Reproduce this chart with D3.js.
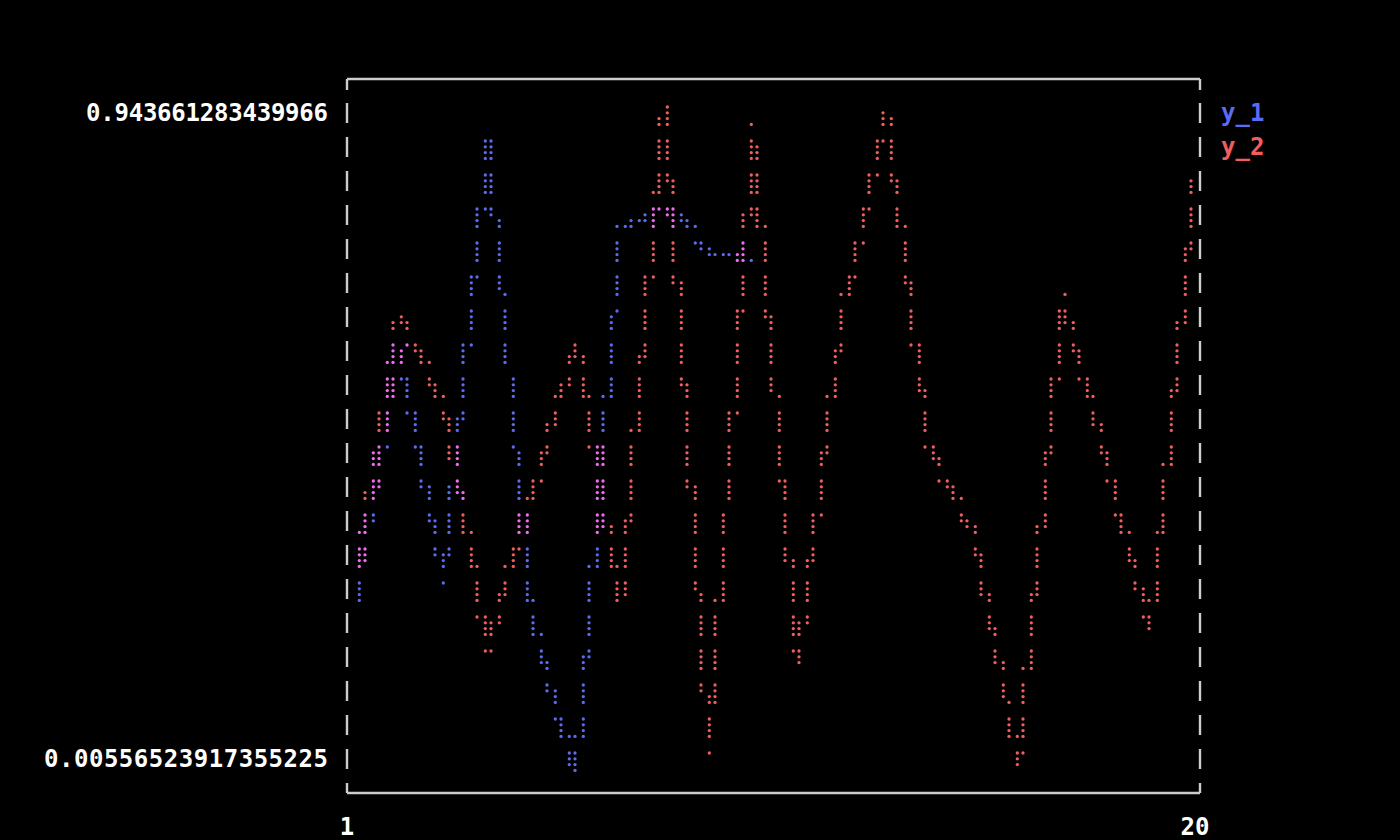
<!DOCTYPE html>
<html><head><meta charset="utf-8">
<script src="https://cdn.jsdelivr.net/npm/d3@7/dist/d3.min.js"></script>
<style>html,body{margin:0;padding:0;background:#000;}svg{display:block}</style>
</head><body>
<script>
// ---- data ----
const seriesNames = ["y_1", "y_2"];
const x1 = [1, 2, 3, 4, 5, 6, 7, 8, 9, 10];
const y1 = [0.245952, 0.600083, 0.281131, 0.890893, 0.222500, 0.00556523917355225, 0.757214, 0.799429, 0.729072, 0.716173];
const x2 = [1, 2, 3, 4, 5, 6, 7, 8, 9, 10, 11, 12, 13, 14, 15, 16, 17, 18, 19, 20];
const y2 = [0.289339, 0.646986, 0.517998, 0.187321, 0.398393, 0.609464, 0.245952, 0.943661283439966, 0.046607, 0.902619,
            0.163869, 0.638780, 0.926072, 0.457024, 0.342107, 0.023140, 0.668095, 0.439434, 0.210774, 0.833435];
const yTickLabels = ["0.943661283439966", "0.00556523917355225"];
const xTickLabels = ["1", "20"];
const seriesColors = ["#5b6cf2", "#f25e5e"];
const mixColor = "#f26cf2";

const W = 1400, H = 840;
const svg = d3.select("body").append("svg").attr("width", W).attr("height", H)
  .style("background", "#000");

// ---- braille canvas geometry ----
const COLS = 60, ROWS = 20;            // character cells
const DW = COLS * 2, DH = ROWS * 4;    // dot resolution
const allY = y1.concat(y2);
const yMin = d3.min(allY), yMax = d3.max(allY);
const xMin = 1, xMax = 20;

// data -> dot space
const xs = d3.scaleLinear().domain([xMin, xMax]).range([0, DW]);
const ys = d3.scaleLinear().domain([yMax, yMin]).range([0, DH]);

// cell -> pixel
const cellX = d3.scaleLinear().domain([0, COLS]).range([354, 354 + 14 * COLS]);
const cellY = d3.scaleLinear().domain([0, ROWS]).range([96, 96 + 34 * ROWS]);
const dotPX = k => cellX(Math.floor(k / 2)) + 5.3 + 5.7 * (k % 2);
const dotPY = d => cellY(Math.floor(d / 4)) + 11 + 5.8 * (d % 4);

// rasterize lines
function raster(xa, ya) {
  const set = new Set();
  for (let i = 0; i < xa.length - 1; i++) {
    const X0 = xs(xa[i]), X1 = xs(xa[i + 1]);
    const Y0 = ys(ya[i]), Y1 = ys(ya[i + 1]);
    const n = 600;
    for (let t = 0; t <= n; t++) {
      const X = X0 + (X1 - X0) * t / n, Y = Y0 + (Y1 - Y0) * t / n;
      const k = Math.min(DW - 1, Math.max(0, Math.floor(X)));
      const d = Math.min(DH - 1, Math.max(0, Math.floor(Y)));
      set.add(k + "," + d);
    }
  }
  return set;
}
const sets = [raster(x1, y1), raster(x2, y2)];
const cellMask = new Map();
sets.forEach((s, si) => s.forEach(key => {
  const [k, d] = key.split(",").map(Number);
  const ck = Math.floor(k / 2) + "," + Math.floor(d / 4);
  cellMask.set(ck, (cellMask.get(ck) || 0) | (1 << si));
}));
const dots = [];
const seen = new Set();
sets.forEach((s, si) => s.forEach(key => {
  if (seen.has(key)) return; seen.add(key);
  const [k, d] = key.split(",").map(Number);
  const m = cellMask.get(Math.floor(k / 2) + "," + Math.floor(d / 4));
  dots.push({k, d, color: m === 3 ? mixColor : seriesColors[m === 1 ? 0 : 1]});
}));

svg.append("g").selectAll("circle").data(dots).join("circle")
  .attr("cx", p => dotPX(p.k)).attr("cy", p => dotPY(p.d))
  .attr("r", 1.65).attr("fill", p => p.color);

// ---- frame ----
const frameColor = "#cdcdcd";
const fx0 = 347, fx1 = 1200, fyTop = 79, fyBot = 793;
const frame = svg.append("g").attr("stroke", frameColor).attr("stroke-width", 2.4).attr("fill", "none");
frame.append("line").attr("x1", fx0).attr("x2", fx1).attr("y1", fyTop).attr("y2", fyTop);
frame.append("line").attr("x1", fx0).attr("x2", fx1).attr("y1", fyBot).attr("y2", fyBot);
[fx0, fx1].forEach(x => {
  frame.append("line").attr("x1", x).attr("x2", x).attr("y1", fyTop).attr("y2", fyTop + 11);
  frame.append("line").attr("x1", x).attr("x2", x).attr("y1", fyBot - 10).attr("y2", fyBot);
  frame.selectAll(null).data(d3.range(ROWS)).join("line")
    .attr("x1", x).attr("x2", x)
    .attr("y1", r => cellY(r) + 7).attr("y2", r => cellY(r) + 27);
});

// ---- text ----
const font = "'DejaVu Sans Mono', monospace";
const txt = svg.append("g").attr("font-family", font).attr("font-weight", "bold")
  .attr("font-size", 24).attr("fill", "#ffffff");
const rowC = r => cellY(r) + 17;
txt.append("text").attr("x", 328).attr("y", rowC(0)).attr("dy", "0.35em")
  .attr("text-anchor", "end").attr("textLength", 242).attr("lengthAdjust", "spacing")
  .text(yTickLabels[0]);
txt.append("text").attr("x", 328).attr("y", rowC(ROWS - 1)).attr("dy", "0.35em")
  .attr("text-anchor", "end").attr("textLength", 284).attr("lengthAdjust", "spacing")
  .text(yTickLabels[1]);
txt.append("text").attr("x", 347).attr("y", rowC(21)).attr("dy", "0.35em")
  .attr("text-anchor", "middle").text(xTickLabels[0]);
txt.append("text").attr("x", 1195).attr("y", rowC(21)).attr("dy", "0.35em")
  .attr("text-anchor", "middle").text(xTickLabels[1]);
seriesNames.forEach((n, i) => {
  txt.append("text").attr("x", 1221).attr("y", rowC(i)).attr("dy", "0.35em")
    .attr("fill", seriesColors[i]).text(n);
});
</script>
</body></html>
